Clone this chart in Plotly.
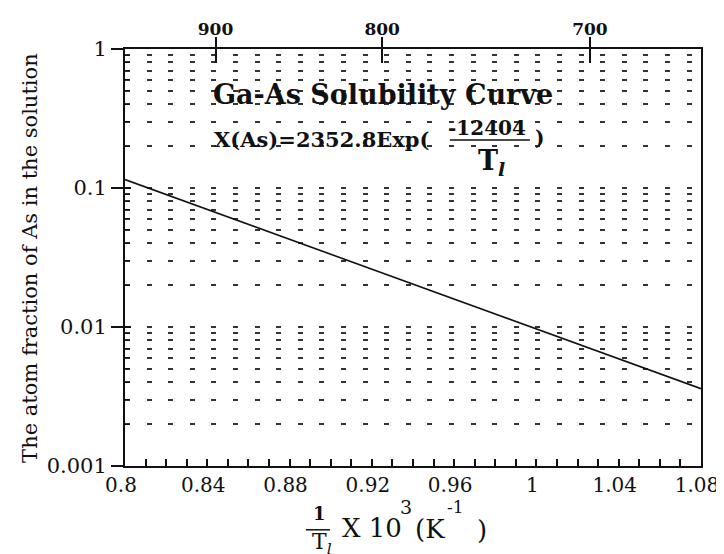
import plotly.graph_objects as go

# ---- data ----
inv_T = [0.8, 1.08]                 # 1/T x 10^3 (K^-1), ends of the straight line
x_as = [0.115, 0.0036]              # atom fraction of As at those ends

x_tick_vals = [0.8, 0.84, 0.88, 0.92, 0.96, 1.0, 1.04, 1.08]
x_tick_text = ["0.8", "0.84", "0.88", "0.92", "0.96", "1", "1.04", "1.08"]

y_tick_vals = [0.001, 0.01, 0.1, 1]
y_tick_text = ["0.001", "0.01", "0.1", "1"]
y_minor_vals = [m * d for d in (0.001, 0.01, 0.1) for m in range(2, 10)]

top_tick_text = ["900", "800", "700"]          # temperature, deg C
top_tick_pos = [0.844, 0.925, 1.026]           # where they sit on the 1/T axis

FONT = "DejaVu Serif"
BLACK = "#111111"

fig = go.Figure()
fig.add_trace(go.Scatter(x=inv_T, y=x_as, mode="lines",
                         line=dict(color=BLACK, width=1.6),
                         showlegend=False, hoverinfo="skip"))
# invisible traces so overlay axes are drawn
fig.add_trace(go.Scatter(x=inv_T, y=x_as, xaxis="x2", mode="none",
                         showlegend=False, hoverinfo="skip"))
fig.add_trace(go.Scatter(x=inv_T, y=x_as, xaxis="x3", mode="none",
                         showlegend=False, hoverinfo="skip"))
fig.add_trace(go.Scatter(x=inv_T, y=x_as, yaxis="y2", mode="none",
                         showlegend=False, hoverinfo="skip"))

grid_dash = "5px,16.6px"

# page body has an 8px margin, so the figure is 716x546 drawn from (8,8)
fig.update_layout(
    width=716, height=546,
    margin=dict(l=117, r=23, t=41, b=88, autoexpand=False),
    paper_bgcolor="white", plot_bgcolor="white",
    font=dict(family=FONT, color=BLACK),
    xaxis=dict(range=[0.8, 1.08], tickmode="array", tickvals=x_tick_vals,
               ticktext=x_tick_text, ticks="inside", ticklen=7, tickwidth=1.5,
               tickcolor=BLACK, automargin=False, ticklabeloverflow="allow",
               ticklabelshift=-4,
               minor=dict(tickmode="linear", tick0=0.8, dtick=0.01, ticks="inside",
                          ticklen=7, tickwidth=1.5, tickcolor=BLACK, showgrid=False),
               showline=True, linewidth=2, linecolor=BLACK, mirror=True,
               showgrid=False, zeroline=False,
               tickfont=dict(size=20, family=FONT, color=BLACK)),
    xaxis2=dict(overlaying="x", side="top", anchor="y", range=[0.8, 1.08],
                tickmode="array", tickvals=top_tick_pos, ticktext=top_tick_text,
                ticks="outside", ticklen=11, tickwidth=1.5, tickcolor=BLACK,
                ticklabelstandoff=-5,
                showline=False, showgrid=False, zeroline=False, automargin=False,
                tickfont=dict(size=17, family=FONT, color=BLACK, weight="bold")),
    xaxis3=dict(overlaying="x", side="top", anchor="y", range=[0.8, 1.08],
                tickmode="array", tickvals=top_tick_pos,
                ticks="inside", ticklen=14, tickwidth=1.5, tickcolor=BLACK,
                showline=False, showgrid=False, zeroline=False,
                showticklabels=False, automargin=False),
    yaxis=dict(type="log", range=[-3, 0], tickmode="array", tickvals=y_tick_vals,
               ticktext=y_tick_text, ticks="outside", ticklen=12, tickwidth=1.5,
               tickcolor=BLACK, automargin=False,
               showline=True, linewidth=2, linecolor=BLACK, mirror=True,
               showgrid=True, gridcolor="#333333", gridwidth=1.6, griddash=grid_dash,
               minor=dict(tickmode="array", tickvals=y_minor_vals, ticks="inside",
                          ticklen=5, tickwidth=1.3, tickcolor=BLACK,
                          showgrid=True, gridcolor="#333333", gridwidth=1.6,
                          griddash=grid_dash),
               zeroline=False,
               tickfont=dict(size=21, family=FONT, color=BLACK)),
    yaxis2=dict(type="log", overlaying="y", side="left", anchor="x", range=[-3, 0],
                tickmode="array", tickvals=y_tick_vals,
                ticks="inside", ticklen=6, tickwidth=1.5, tickcolor=BLACK,
                showline=False, showgrid=False, zeroline=False,
                showticklabels=False, automargin=False),
)

def ann(text, x, y, size, bold=False, xanchor="center", angle=0):
    fig.add_annotation(text=text, x=x, y=y, xref="paper", yref="paper",
                       showarrow=False, xanchor=xanchor, yanchor="middle",
                       textangle=angle,
                       font=dict(family=FONT, size=size, color=BLACK,
                                 weight="bold" if bold else "normal"))

# in-plot title and formula
ann("Ga-As Solubility Curve", 0.448, 0.890, 27, bold=True)
ann("X(As)=2352.8Exp(", 0.341, 0.782, 21, bold=True)
ann("-12404", 0.628, 0.811, 20, bold=True)
ann("T<sub><i>l</i></sub>", 0.636, 0.729, 27, bold=True)
ann(")", 0.720, 0.787, 20, bold=True)
fig.add_shape(type="line", xref="paper", yref="paper",
              x0=0.564, x1=0.703, y0=0.782, y1=0.782,
              line=dict(color=BLACK, width=1.5))

# x-axis title: 1/T_l X 10^3 (K^-1)
ann("1", 0.337, -0.113, 18, bold=True)
fig.add_shape(type="line", xref="paper", yref="paper",
              x0=0.314, x1=0.356, y0=-0.153, y1=-0.153,
              line=dict(color=BLACK, width=1.5))
ann("T<sub><i>l</i></sub>", 0.342, -0.187, 22)
ann("X 10", 0.373, -0.149, 26, xanchor="left")
ann("3", 0.488, -0.098, 19)
ann("(K", 0.500, -0.151, 26, xanchor="left")
ann("-1", 0.573, -0.098, 17)
ann(")", 0.620, -0.153, 26)

# y-axis title
ann("The atom fraction of As in the solution", -0.165, 0.499, 21, angle=-90)

fig.write_html("out.html")
